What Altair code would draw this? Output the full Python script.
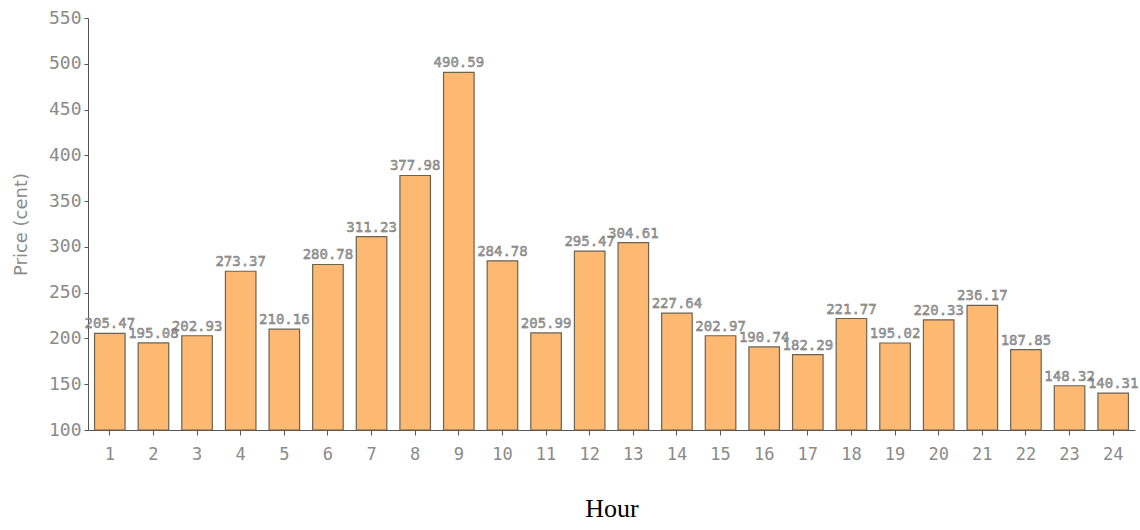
import altair as alt
import pandas as pd

hours = list(range(1, 25))
prices = [205.47, 195.08, 202.93, 273.37, 210.16, 280.78, 311.23, 377.98,
          490.59, 284.78, 205.99, 295.47, 304.61, 227.64, 202.97, 190.74,
          182.29, 221.77, 195.02, 220.33, 236.17, 187.85, 148.32, 140.31]
y_ticks = list(range(100, 551, 50))

df = pd.DataFrame({"hour": hours, "price": prices})
df["label"] = df["price"].map(lambda v: f"{v:.2f}")

x_enc = alt.X(
    "hour:O",
    title="Hour",
    scale=alt.Scale(paddingInner=0.3, paddingOuter=0.15),
    axis=alt.Axis(
        labelAngle=0, labelFont="DejaVu Sans Mono", labelFontSize=17,
        labelColor="#8a8a8a", labelPadding=11, tickSize=5, tickColor="#555",
        domainColor="#555", titleFont="Liberation Serif", titleFontSize=26,
        titleFontWeight="normal", titleColor="#000", titlePadding=33,
    ),
)
y_scale = alt.Scale(domain=[100, 550], zero=False, nice=False)

bars = alt.Chart(df).mark_bar(
    color="#FDB872", stroke="#6b6250", strokeWidth=1.2
).encode(
    x=x_enc,
    y=alt.Y(
        "price:Q", title="Price (cent)", scale=y_scale,
        axis=alt.Axis(
            values=y_ticks, grid=False, labelFont="DejaVu Sans Mono",
            labelFontSize=18, labelColor="#8a8a8a", tickSize=4,
            tickColor="#555", domainColor="#555", labelPadding=3,
            titleFont="DejaVu Sans", titleFontSize=18,
            titleFontWeight="normal", titleColor="#8a8a8a", titlePadding=18,
        ),
    ),
    y2=alt.datum(100),
)

labels = alt.Chart(df).mark_text(
    dy=-9, font="DejaVu Sans Mono", fontSize=14, color="#a8a8a8",
    stroke="#606060", strokeWidth=0.4,
).encode(
    x=alt.X("hour:O"),
    y=alt.Y("price:Q", scale=y_scale),
    text="label:N",
)

chart = (bars + labels).properties(
    width=1047, height=412,
    autosize=alt.AutoSizeParams(type="none"),
    padding={"left": 88, "top": 18, "right": 5, "bottom": 100},
).configure(background="white").configure_view(stroke=None)

chart.save("out.html", embed_options={"renderer": "svg", "actions": False})
